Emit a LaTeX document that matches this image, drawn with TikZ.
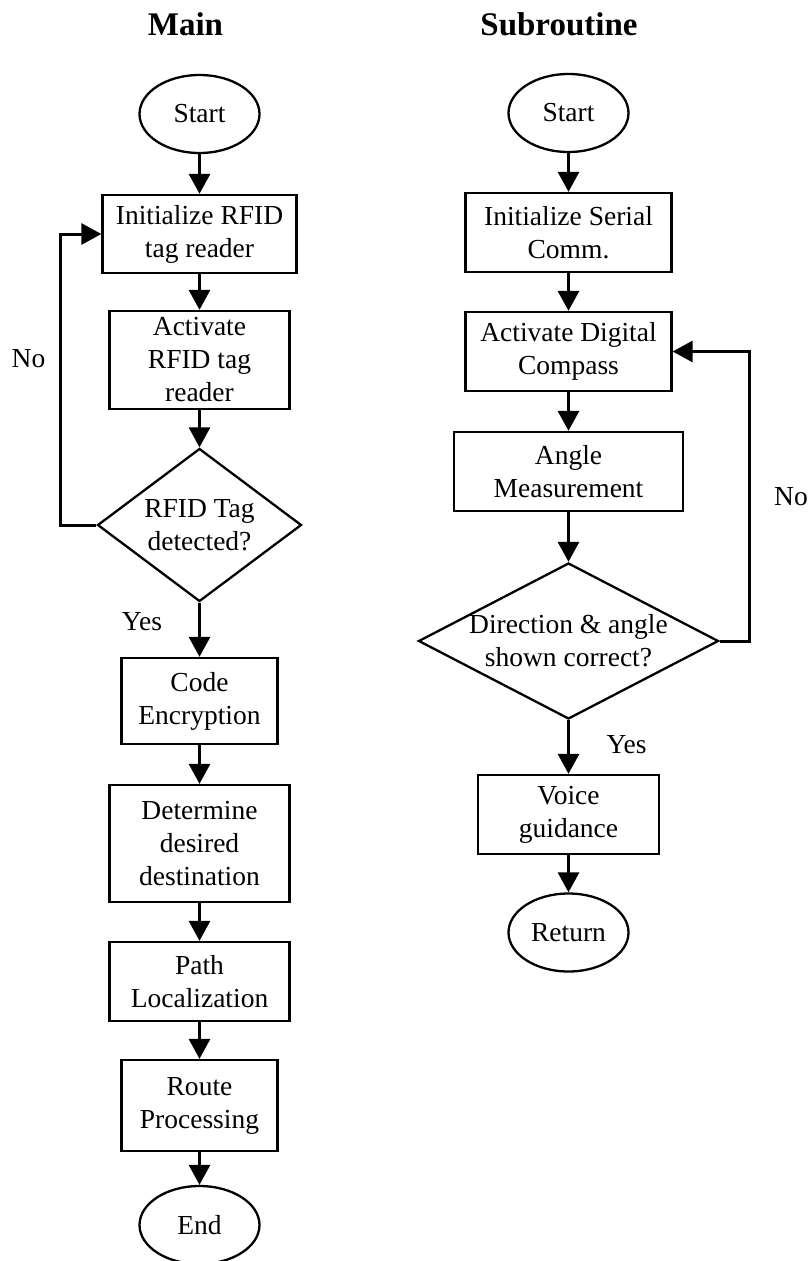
\documentclass[tikz,border=0pt]{standalone}
\usepackage{fontspec}
\setmainfont{Liberation Serif}
\usetikzlibrary{shapes.geometric,arrows.meta}
\begin{document}
\begin{tikzpicture}[x=1pt,y=-1pt,
  txt/.style={font=\fontsize{27.5}{33}\selectfont, align=center},
  proc/.style={draw, line width=2.3pt, rectangle, inner sep=0pt, txt},
  term/.style={draw, line width=2.3pt, ellipse, minimum width=120pt, minimum height=78pt, inner sep=0pt, txt},
  decision/.style={draw, line width=2.3pt, diamond, inner sep=0pt},
  flow/.style={line width=3pt, -{Triangle[width=21pt,length=20pt]}},
  title/.style={font=\fontsize{33}{40}\selectfont\bfseries, anchor=base},
  tag/.style={font=\fontsize{27.5}{33}\selectfont, anchor=base},
]
\useasboundingbox (0,0) rectangle (810,1261);

% column headings
\node[title] (tmain) at (185.5,35) {Main};
\node[title] (tsub) at (559,35) {Subroutine};

% main program
\node[term] (m0) at (199.5,114) {Start};
\node[proc, minimum width=194pt, minimum height=78pt] (m1) at (199.5,234) {Initialize RFID\\tag reader};
\node[proc, minimum width=180pt, minimum height=98pt] (m2) at (199.5,360) {Activate\\RFID tag\\reader};
\node[decision, minimum width=204pt, minimum height=153pt] (m3) at (199.5,525) {};
\node[txt] (m3t) at (m3) {RFID Tag\\detected?};
\node[proc, minimum width=156pt, minimum height=86pt] (m4) at (199.5,701) {Code\\Encryption};
\node[proc, minimum width=180pt, minimum height=117pt] (m5) at (199.5,843.5) {Determine\\desired\\destination};
\node[proc, minimum width=180pt, minimum height=79pt] (m6) at (199.5,981.5) {Path\\Localization};
\node[proc, minimum width=156pt, minimum height=91pt] (m7) at (199.5,1105.5) {Route\\Processing};
\node[term] (m8) at (199.5,1225) {End};

\draw[flow] (m0) -- (m1);
\draw[flow] (m1) -- (m2);
\draw[flow] (m2) -- (m3);
\draw[flow] (m3) -- (m4);
\draw[flow] (m4) -- (m5);
\draw[flow] (m5) -- (m6);
\draw[flow] (m6) -- (m7);
\draw[flow] (m7) -- (m8);
\draw[flow] (m3.west) -- ++(-36,0) |- (m1.west);

\node[tag] (no1) at (28.5,367) {No};
\node[tag] (yes1) at (142,630) {Yes};

% subroutine
\node[term] (s0) at (568.5,113) {Start};
\node[proc, minimum width=206pt, minimum height=79pt] (s1) at (568.5,232.5) {Initialize Serial\\Comm.};
\node[proc, minimum width=206pt, minimum height=79pt] (s2) at (568.5,351.5) {Activate Digital\\Compass};
\node[proc, minimum width=229pt, minimum height=79pt] (s3) at (568.5,471.5) {Angle\\Measurement};
\node[decision, minimum width=300pt, minimum height=156pt] (s4) at (568.5,641) {};
\node[txt] (s4t) at (s4) {Direction \& angle\\shown correct?};
\node[proc, minimum width=181pt, minimum height=79pt] (s5) at (568.5,814.5) {Voice\\guidance};
\node[term] (s6) at (568.5,932.5) {Return};

\draw[flow] (s0) -- (s1);
\draw[flow] (s1) -- (s2);
\draw[flow] (s2) -- (s3);
\draw[flow] (s3) -- (s4);
\draw[flow] (s4) -- (s5);
\draw[flow] (s5) -- (s6);
\draw[flow] (s4.east) -- ++(30,0) |- (s2.east);

\node[tag] (no2) at (791,505) {No};
\node[tag] (yes2) at (626.5,753) {Yes};
\end{tikzpicture}
\end{document}
